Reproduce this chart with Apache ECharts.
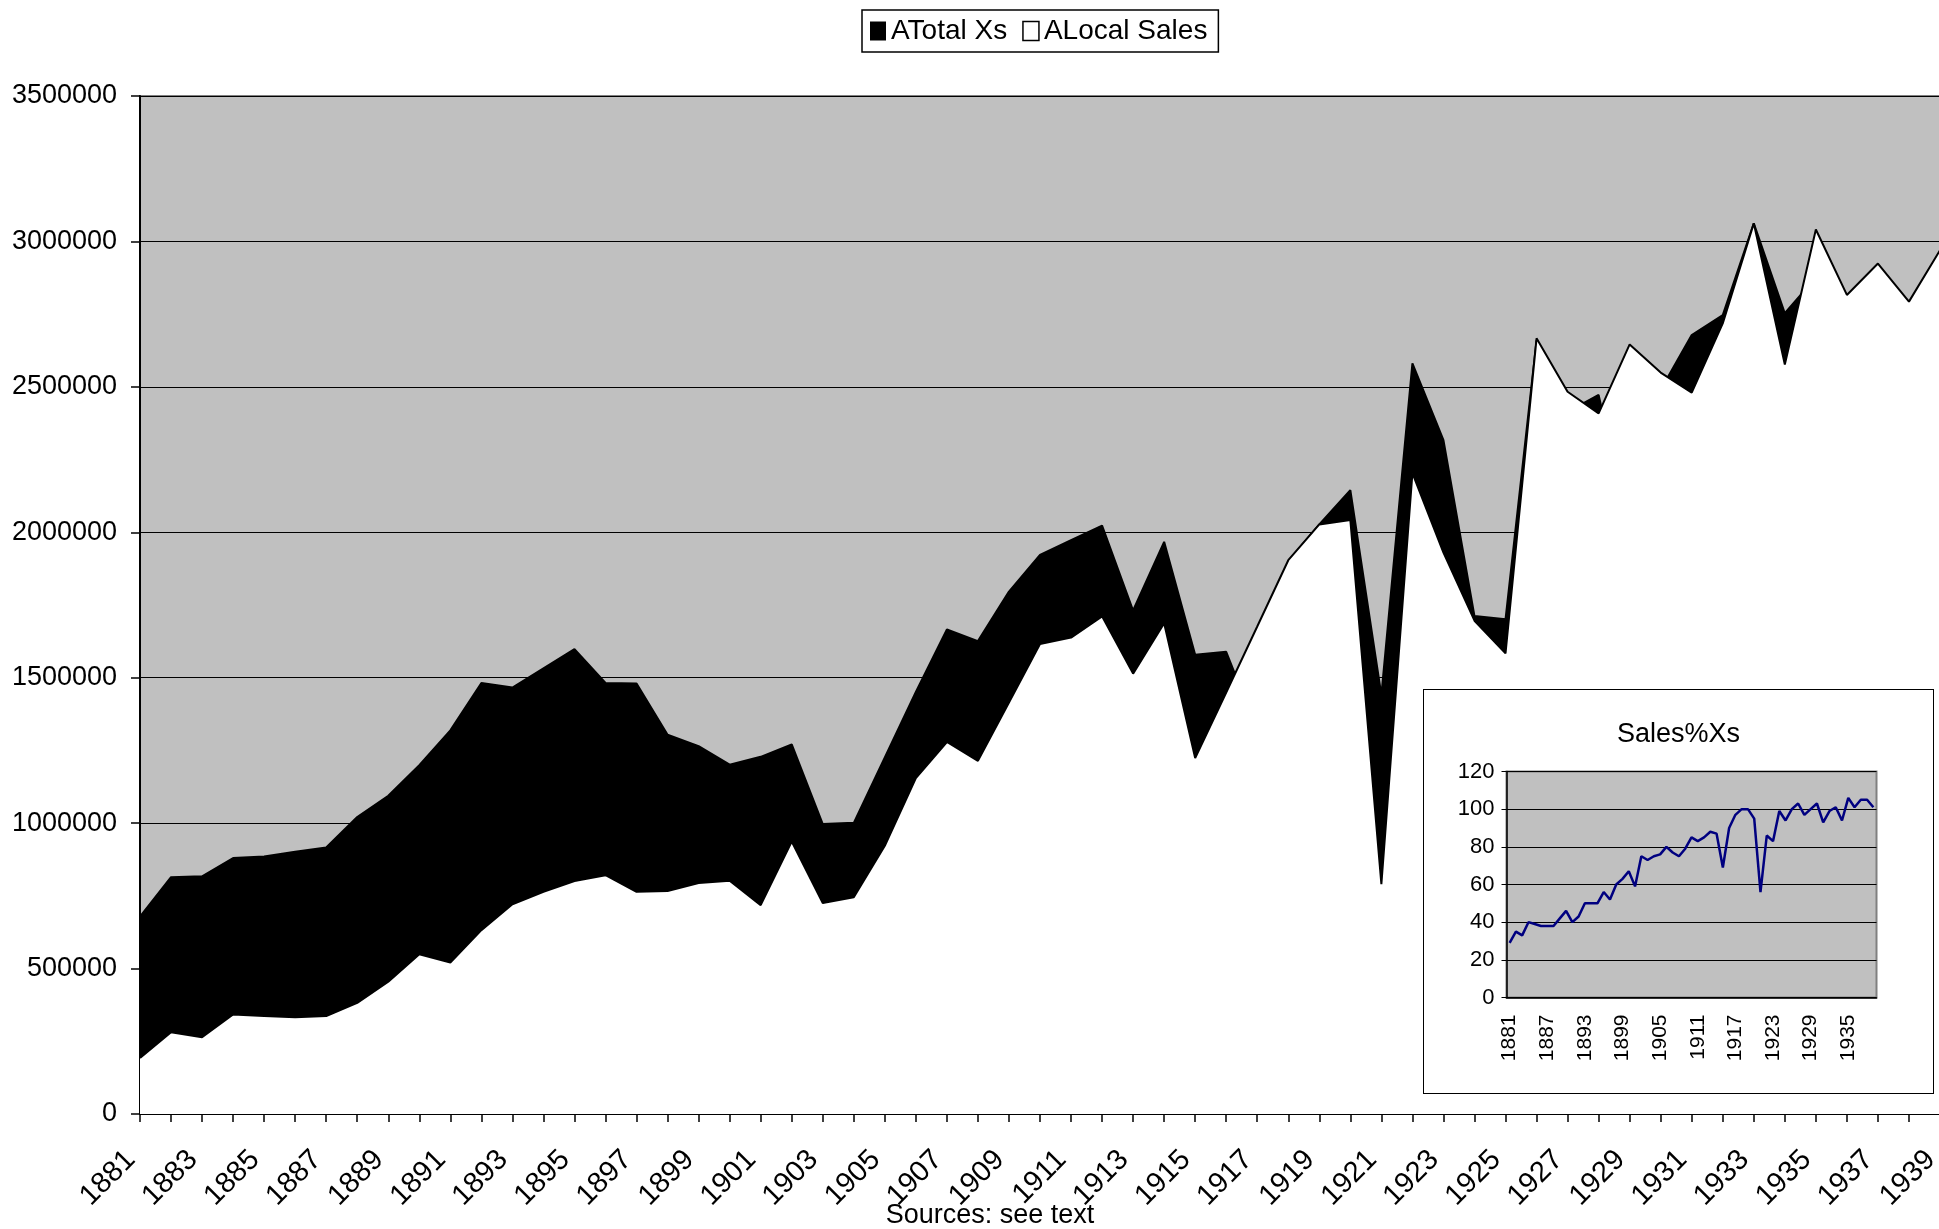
<!DOCTYPE html>
<html>
<head>
<meta charset="utf-8">
<title>ATotal Xs / ALocal Sales</title>
<script src="https://cdn.jsdelivr.net/npm/echarts@6/dist/echarts.min.js"></script>
<style>
  html, body { margin: 0; padding: 0; background: #fff; overflow: hidden; }
  #main { position: absolute; left: 0; top: 0; width: 1939px; height: 1229px; }
  #inset { position: absolute; left: 1423px; top: 689px; width: 511px; height: 405px;
           box-sizing: border-box; border: 1.5px solid #000; background: #fff; }
</style>
</head>
<body>
<div id="main"></div>
<div id="inset"></div>
<script>
var FONT = '"Liberation Sans", Arial, sans-serif';

var years = ['1881', '1882', '1883', '1884', '1885', '1886', '1887', '1888', '1889', '1890',
  '1891', '1892', '1893', '1894', '1895', '1896', '1897', '1898', '1899', '1900',
  '1901', '1902', '1903', '1904', '1905', '1906', '1907', '1908', '1909', '1910',
  '1911', '1912', '1913', '1914', '1915', '1916', '1917', '1918', '1919', '1920',
  '1921', '1922', '1923', '1924', '1925', '1926', '1927', '1928', '1929', '1930',
  '1931', '1932', '1933', '1934', '1935', '1936', '1937', '1938', '1939'];

// ATotal Xs (black area)
var totalXs = [679000, 814000, 817000, 880000, 885000, 902000, 916000, 1021000, 1094000, 1199000,
  1319000, 1482000, 1466000, 1532000, 1598000, 1482000, 1480000, 1304000, 1265000, 1201000,
  1228000, 1271000, 997000, 1001000, 1226000, 1451000, 1666000, 1626000, 1796000, 1922000,
  1973000, 2023000, 1731000, 1967000, 1579000, 1589000, 1320000, 1900000, 2027000, 2145000,
  1440000, 2581000, 2317000, 1712000, 1701000, 2660000, 2414000, 2472000, 2000000, 2490000,
  2678000, 2747000, 3062000, 2753000, 2876000, 2760000, 2785000, 2660000, 2910000];

// ALocal Sales (white area, drawn in front)
var localSales = [193000, 281000, 264000, 342000, 337000, 333000, 337000, 382000, 455000, 549000,
  521000, 632000, 721000, 764000, 801000, 821000, 764000, 767000, 794000, 802000,
  718000, 937000, 725000, 745000, 922000, 1155000, 1279000, 1214000, 1415000, 1616000,
  1638000, 1711000, 1514000, 1687000, 1224000, 1449000, 1676000, 1904000, 2027000, 2042000,
  790000, 2203000, 1930000, 1696000, 1584000, 2667000, 2483000, 2409000, 2646000, 2549000,
  2480000, 2718000, 3062000, 2577000, 3041000, 2816000, 2924000, 2793000, 2970000];

// inset: Sales%Xs
var salesPct = [29, 35, 33, 40, 39, 38, 38, 38, 42, 46,
  40, 43, 50, 50, 50, 56, 52, 60, 63, 67,
  59, 75, 73, 75, 76, 80, 77, 75, 79, 85,
  83, 85, 88, 87, 69, 90, 97, 100, 100, 95,
  56, 86, 83, 99, 94, 100, 103, 97, 100, 103,
  93, 99, 101, 94, 106, 101, 105, 105, 101];

var mainChart = echarts.init(document.getElementById('main'));
mainChart.setOption({
  animation: false,
  textStyle: { fontFamily: FONT, color: '#000' },
  legend: {
    left: 862,
    top: 10,
    padding: [7, 11, 7, 8],
    itemGap: 15,
    itemWidth: 16,
    itemHeight: 19,
    borderColor: '#000',
    borderWidth: 1.5,
    textStyle: { fontSize: 28, color: '#000', fontFamily: FONT },
    data: [
      { name: 'ATotal Xs', icon: 'rect', itemStyle: { color: '#000' } },
      { name: 'ALocal Sales', icon: 'rect', itemStyle: { color: '#fff', borderColor: '#000', borderWidth: 1.5 } }
    ]
  },
  grid: {
    left: 140, top: 96, width: 1800, height: 1018,
    outerBoundsMode: 'none',
    show: true, backgroundColor: '#c0c0c0', borderColor: '#808080', borderWidth: 2
  },
  xAxis: {
    type: 'category',
    data: years,
    boundaryGap: false,
    axisLine: { lineStyle: { color: '#000', width: 2 } },
    axisTick: { interval: 0, length: 8, lineStyle: { color: '#000', width: 1.5 } },
    axisLabel: { interval: 1, rotate: 45, fontSize: 29, color: '#000', fontFamily: FONT, margin: 32, padding: [0, 13, 0, 0] },
    splitLine: { show: false }
  },
  yAxis: {
    type: 'value',
    min: 0, max: 3500000, interval: 500000,
    axisLine: { show: true, lineStyle: { color: '#000', width: 2 } },
    axisTick: { show: true, length: 9, lineStyle: { color: '#000', width: 1.5 } },
    axisLabel: { fontSize: 27, color: '#000', fontFamily: FONT, margin: 23, formatter: function (v) { return String(v); } },
    splitLine: { lineStyle: { color: '#000', width: 1 } }
  },
  series: [
    {
      name: 'ATotal Xs', type: 'line', data: totalXs, symbol: 'none', z: 2,
      lineStyle: { color: '#000', width: 2 }, itemStyle: { color: '#000' },
      areaStyle: { color: '#000', opacity: 1 }
    },
    {
      name: 'ALocal Sales', type: 'line', data: localSales, symbol: 'none', z: 3,
      lineStyle: { color: '#000', width: 2 }, itemStyle: { color: '#fff' },
      areaStyle: { color: '#fff', opacity: 1 }
    }
  ],
  graphic: [{
    type: 'text', x: 990, y: 1216,
    style: { text: 'Sources: see text', fill: '#000', font: '27px ' + FONT, align: 'center', verticalAlign: 'middle' }
  }]
});

var insetChart = echarts.init(document.getElementById('inset'));
insetChart.setOption({
  animation: false,
  textStyle: { fontFamily: FONT, color: '#000' },
  title: {
    text: 'Sales%Xs', left: 'center', top: 31, padding: 0,
    textStyle: { fontSize: 27, fontWeight: 'normal', color: '#000', fontFamily: FONT }
  },
  grid: {
    left: 82.5, top: 81.5, width: 370, height: 226,
    outerBoundsMode: 'none',
    show: true, backgroundColor: '#c0c0c0', borderColor: '#808080', borderWidth: 2
  },
  xAxis: {
    type: 'category',
    data: years,
    boundaryGap: true,
    axisLine: { lineStyle: { color: '#000', width: 1.5 } },
    axisTick: { interval: 0, length: 5, lineStyle: { color: '#000' } },
    axisLabel: { interval: 5, rotate: 90, fontSize: 21, color: '#000', fontFamily: FONT, margin: 17 }
  },
  yAxis: {
    type: 'value',
    min: 0, max: 120, interval: 20,
    axisLine: { show: true, lineStyle: { color: '#000', width: 1.5 } },
    axisTick: { show: true, length: 5, lineStyle: { color: '#000' } },
    axisLabel: { fontSize: 22, color: '#000', fontFamily: FONT, margin: 12 },
    splitLine: { lineStyle: { color: '#000', width: 1 } }
  },
  series: [{
    name: 'Sales%Xs', type: 'line', data: salesPct, symbol: 'none',
    lineStyle: { color: '#000080', width: 2.5 }
  }]
});
</script>
</body>
</html>
